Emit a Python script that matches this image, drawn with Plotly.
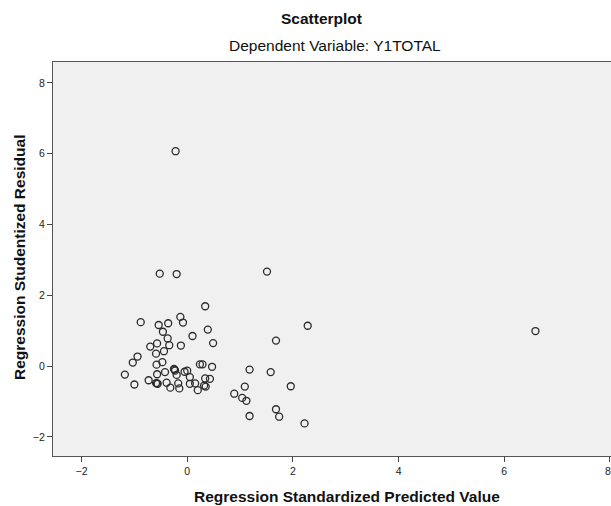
import plotly.graph_objects as go

# Regression Standardized Predicted Value
pred = [-0.22, -0.52, -0.20, 1.51, 6.59, 2.28, 0.34, 1.68, -0.88, -0.54,
        -0.36, -0.13, -0.08, -0.46, -0.37, 0.10, 0.39, 0.49, -0.57, -0.70,
        -0.34, -0.12, -0.44, -0.59, -0.94, -1.03, -1.18, -1.00, -0.73, -0.47,
        -0.58, -0.57, -0.42, -0.57, -0.59, -0.56, -0.24, -0.25, -0.23, -0.20,
        -0.05, 0.00, 0.05, -0.39, -0.32, -0.17, -0.15, 0.05, 0.15, 0.20,
        0.24, 0.29, 0.47, 0.34, 0.43, 0.32, 0.35, 1.18, 1.58, 1.09,
        1.96, 0.89, 1.04, 1.12, 1.18, 1.68, 1.74, 2.22]
# Regression Studentized Residual
resid = [6.07, 2.61, 2.60, 2.67, 0.99, 1.14, 1.69, 0.72, 1.24, 1.16,
         1.21, 1.39, 1.23, 0.97, 0.78, 0.85, 1.03, 0.65, 0.64, 0.55,
         0.59, 0.58, 0.42, 0.35, 0.27, 0.10, -0.24, -0.52, -0.40, 0.11,
         0.04, -0.23, -0.17, -0.49, -0.48, -0.50, -0.10, -0.08, -0.13, -0.25,
         -0.16, -0.13, -0.31, -0.47, -0.61, -0.49, -0.63, -0.50, -0.49, -0.68,
         0.05, 0.05, -0.02, -0.35, -0.36, -0.55, -0.58, -0.10, -0.17, -0.58,
         -0.57, -0.78, -0.90, -0.98, -1.41, -1.22, -1.43, -1.62]

x_ticks = [-2, 0, 2, 4, 6, 8]
y_ticks = [-2, 0, 2, 4, 6, 8]

FONT = "Liberation Sans, Arial, sans-serif"
TICKFONT = dict(family=FONT, size=10.5, color="#222222")

# plot area in pixels: left 53, right 611, top 62, bottom 456
PL, PR, PT, PB = 53, 611, 62, 456
def px_x(px):
    return (px - PL) / (PR - PL)
def px_y(py):
    return (PB - py) / (PB - PT)

fig = go.Figure()
fig.add_trace(go.Scatter(
    x=pred, y=resid, mode="markers",
    marker=dict(symbol="circle-open", size=7,
                line=dict(color="#2a2a2a", width=1.3), color="#2a2a2a"),
    showlegend=False, hoverinfo="x+y",
))

axis_common = dict(
    showgrid=False, zeroline=False, showline=True, mirror=True,
    linecolor="#555555", linewidth=1.3, ticks="outside", ticklen=5,
    tickwidth=1, tickcolor="#444444", tickfont=TICKFONT,
)

fig.update_layout(
    width=611, height=506,
    margin=dict(l=PL, r=611 - PR, t=PT, b=506 - PB),
    paper_bgcolor="white", plot_bgcolor="#f0f0f0",
    font=dict(family=FONT, color="#111111"),
    xaxis=dict(range=[-2.54, 8.02], tickvals=x_ticks, **axis_common),
    yaxis=dict(range=[-2.54, 8.59], tickvals=y_ticks, **axis_common),
    annotations=[
        dict(text="<b>Scatterplot</b>", xref="paper", yref="paper",
             x=px_x(321), y=px_y(18), showarrow=False,
             xanchor="center", yanchor="middle",
             font=dict(family=FONT, size=15.5, color="#111111")),
        dict(text="Dependent Variable: Y1TOTAL", xref="paper", yref="paper",
             x=px_x(335), y=px_y(45), showarrow=False,
             xanchor="center", yanchor="middle",
             font=dict(family=FONT, size=15.5, color="#111111")),
        dict(text="<b>Regression Standardized Predicted Value</b>",
             xref="paper", yref="paper",
             x=px_x(347), y=px_y(497), showarrow=False,
             xanchor="center", yanchor="middle",
             font=dict(family=FONT, size=15.5, color="#111111")),
        dict(text="<b>Regression Studentized Residual</b>",
             xref="paper", yref="paper", textangle=-90,
             x=px_x(19), y=px_y(258), showarrow=False,
             xanchor="center", yanchor="middle",
             font=dict(family=FONT, size=15.5, color="#111111")),
        # last x tick label, kept just inside the window edge
        dict(text=str(x_ticks[-1]), xref="x", yref="paper",
             x=x_ticks[-1], xshift=3, y=px_y(471), showarrow=False,
             xanchor="right", yanchor="middle", font=TICKFONT),
    ],
)

fig.write_html("out.html")
